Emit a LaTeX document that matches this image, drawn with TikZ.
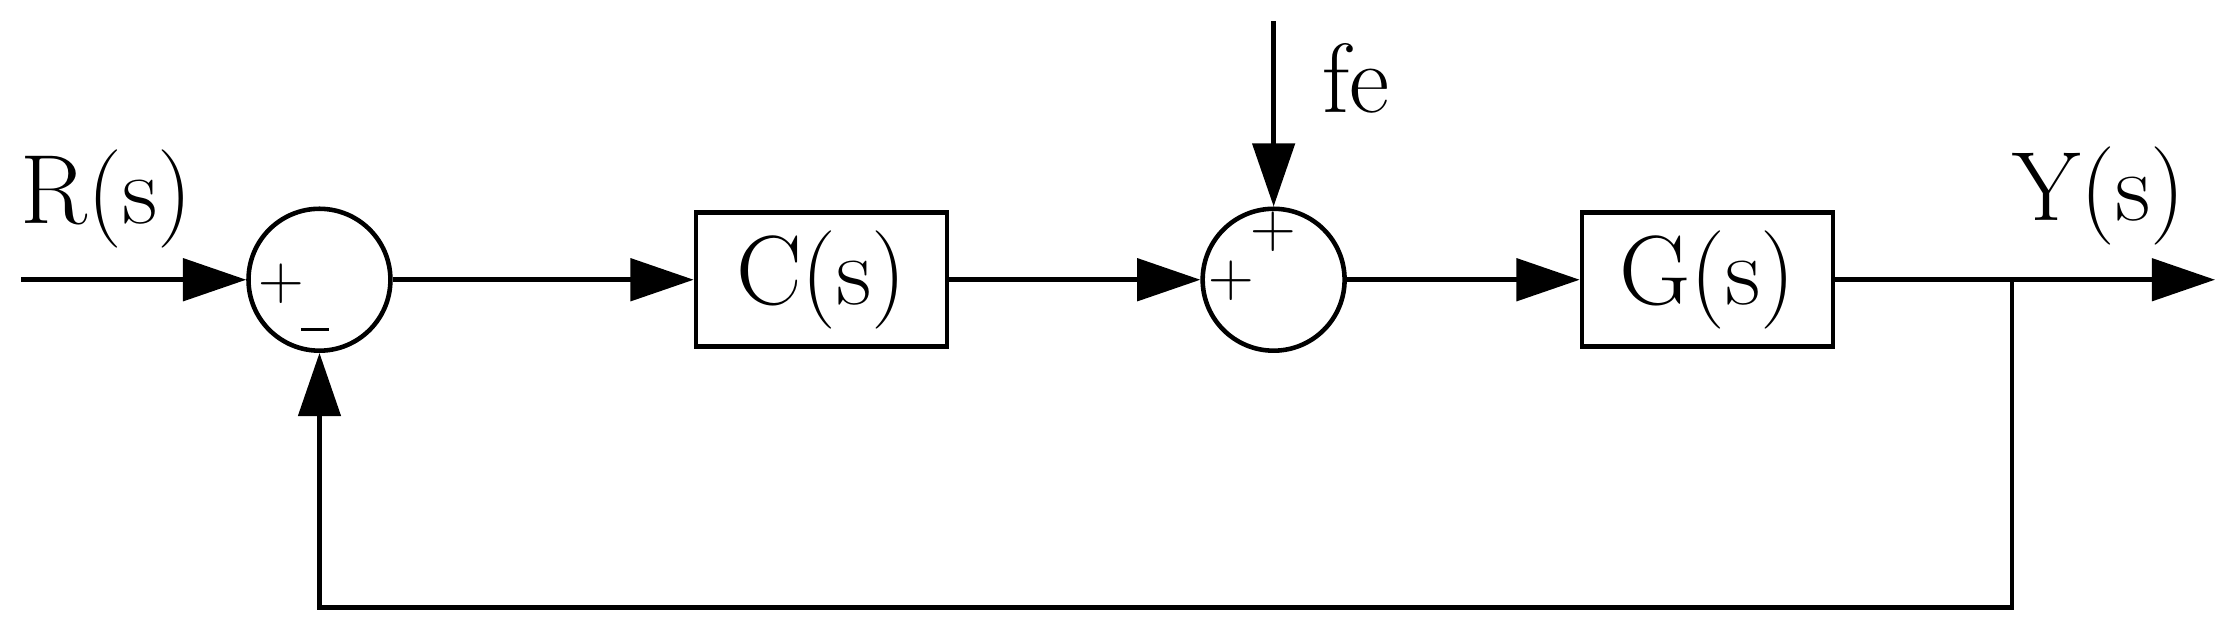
\documentclass[tikz,border=0pt]{standalone}
\usetikzlibrary{arrows.meta}
\begin{document}
\begin{tikzpicture}[x=0.0142cm,y=-0.0142cm,line width=1.3pt,
  blk/.style={draw,minimum width=2.51cm,minimum height=1.34cm,inner sep=0pt,font=\fontsize{28}{32}\selectfont},
  sum/.style={draw,circle,minimum size=1.42cm,inner sep=0pt},
  lbl/.style={font=\fontsize{28}{32}\selectfont},
  sg/.style={font=\fontsize{18}{20}\selectfont,inner sep=0pt},
  arr/.style={-{Triangle[length=18pt,width=12pt]}}]
\useasboundingbox (0,0) rectangle (1560,446);
\node[sum] (s1) at (225,197) {};
\node[blk] (C) at (578.5,197) {C(s)};
\node[sum] (s2) at (897,197) {};
\node[blk] (G) at (1202.5,197) {G(s)};
\coordinate (in) at (15,197);
\coordinate (out) at (1560,197);
\coordinate (br) at (1417,197);
\coordinate (fb1) at (1417,428);
\coordinate (fb2) at (225,428);
\coordinate (fetop) at (897,15);
\draw[arr] (in) -- (s1.west);
\draw[arr] (s1.east) -- (C.west);
\draw[arr] (C.east) -- (s2.west);
\draw[arr] (s2.east) -- (G.west);
\draw[arr] (G.east) -- (out);
\draw[arr] (br) -- (fb1) -- (fb2) -- (s1.south);
\draw[arr] (fetop) -- (s2.north);
\node[lbl] (R) at (75,140) {R(s)};
\node[lbl] (Y) at (1478,138) {Y(s)};
\node[lbl] (fe) at (955,55) {fe};
\node[sg] (p1) at (198,200) {+};
\node[sg] (m1) at (222,232) {\rule{0.45em}{0.8pt}};
\node[sg] (p2) at (897,163) {+};
\node[sg] (p3) at (867,198) {+};
\end{tikzpicture}
\end{document}
